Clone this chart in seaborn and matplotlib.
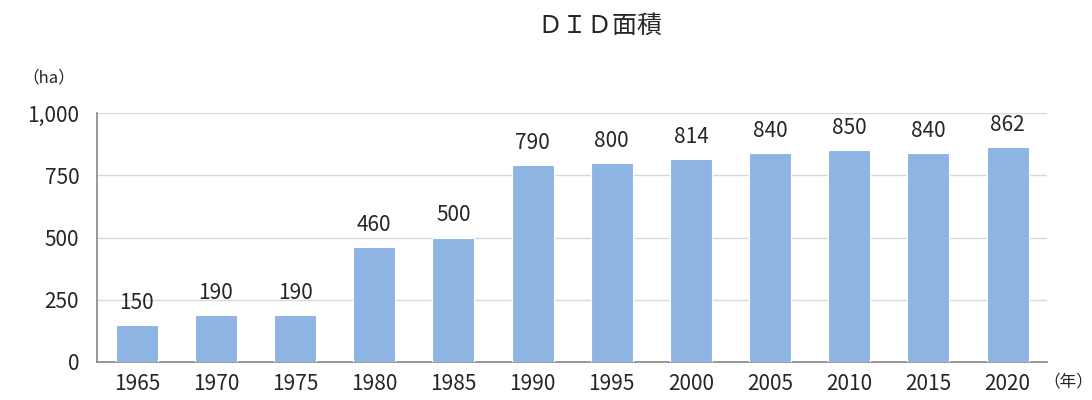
import matplotlib
matplotlib.use("Agg")
import matplotlib.pyplot as plt
import seaborn as sns
import pandas as pd
import numpy as np

years = ["1965", "1970", "1975", "1980", "1985", "1990",
         "1995", "2000", "2005", "2010", "2015", "2020"]
area = [150, 190, 190, 460, 500, 790, 800, 814, 840, 850, 840, 862]

sns.set_style("white")
plt.rcParams['font.family'] = ['Noto Sans CJK JP', 'DejaVu Sans']

df = pd.DataFrame({"year": years, "area": area})

fig = plt.figure(figsize=(10.92, 4), dpi=100)
ax = fig.add_axes([0.089, 0.095, 0.870, 0.6225])

sns.barplot(data=df, x="year", y="area", color="#8EB4E3", saturation=1,
            width=0.53, edgecolor="white", linewidth=0.8, ax=ax, zorder=3)

ax.set_ylim(0, 1000)
ax.set_xlim(-0.5, len(years) - 0.5)
ax.set_yticks([0, 250, 500, 750, 1000])
ax.set_yticklabels(["0", "250", "500", "750", "1,000"], fontsize=15)
ax.tick_params(axis="x", which="major", length=0, labelsize=15, pad=8)
ax.set_xticks(np.arange(-0.5, len(years), 1), minor=True)
ax.tick_params(axis="x", which="minor", length=5, color="#868686", direction="out")
ax.tick_params(axis="y", length=5, color="#868686", direction="out", pad=8)

ax.yaxis.grid(True, color="#D9D9D9", linewidth=1, zorder=0)
ax.set_axisbelow(True)
for s in ["top", "right"]:
    ax.spines[s].set_visible(False)
for s in ["left", "bottom"]:
    ax.spines[s].set_color("#868686")
    ax.spines[s].set_linewidth(1.2)

ax.set_xlabel("")
ax.set_ylabel("")

for c in ax.containers:
    ax.bar_label(c, labels=[str(v) for v in area], padding=8, fontsize=15)

fig.text(0.549, 0.935, "ＤＩＤ面積", ha="center", va="center", fontsize=18)
fig.text(0.045, 0.805, "（ha）", ha="center", va="center", fontsize=12)
fig.text(0.978, 0.045, "（年）", ha="center", va="center", fontsize=12)

fig.savefig("out.png", dpi=100)
